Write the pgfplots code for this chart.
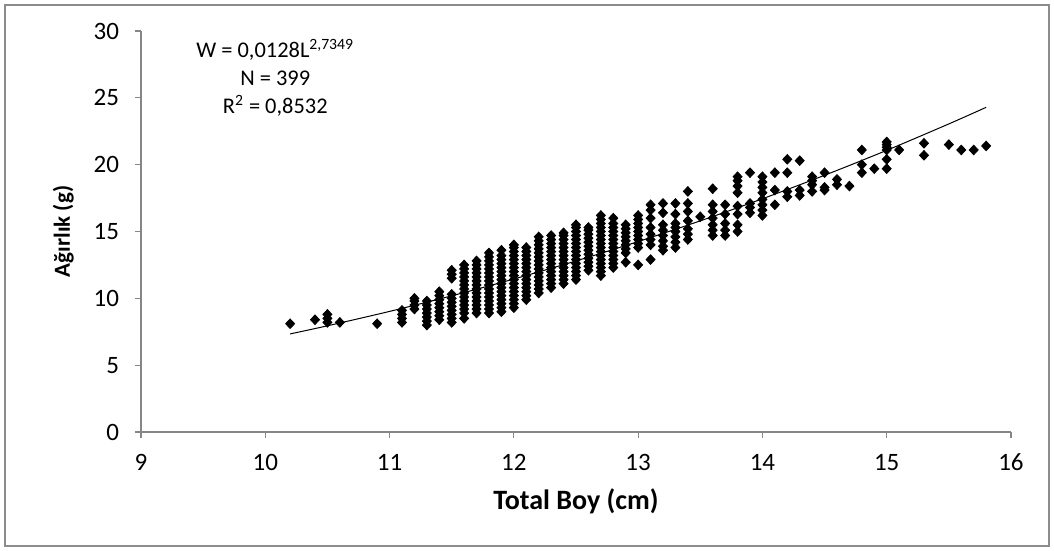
\documentclass[border=0pt]{standalone}
\usepackage{fontspec}
\setmainfont{Carlito}
\usepackage{pgfplots}
\pgfplotsset{compat=1.18}
\definecolor{axisgray}{HTML}{868686}
\definecolor{framegray}{HTML}{8C8C8C}

\begin{document}
\begin{tikzpicture}[x=1pt,y=1pt]
\useasboundingbox (0,0) rectangle (527,275.5);
\draw[framegray, line width=0.9pt] (2.5,2.5) rectangle (524.5,273);
\begin{axis}[
  at={(70.5pt,59.5pt)}, anchor=south west,
  scale only axis, width=435pt, height=200.5pt,
  xmin=9, xmax=16, ymin=0, ymax=30,
  xtick={9,...,16}, ytick={0,5,...,30},
  axis x line*=bottom, axis y line*=left,
  axis line style={axisgray, line width=0.6pt, -},
  tick style={axisgray, line width=0.6pt},
  tick align=outside, major tick length=3pt,
  /pgf/number format/assume math mode=true,
  ticklabel style={font=\fontsize{12.5}{14}\selectfont, text=black},
  xticklabel style={yshift=-4.5pt},
  yticklabel style={xshift=-4.5pt},
  xlabel={\textbf{Total Boy (cm)}},
  ylabel={\textbf{Ağırlık (g)}},
  xlabel style={font=\fontsize{14}{16}\selectfont, yshift=-2pt},
  ylabel style={font=\fontsize{11.5}{13}\selectfont, yshift=3pt},
  clip=false,
]
% observed length-weight pairs
\addplot[only marks, mark=diamond*, mark size=2.4pt, mark options={xscale=1.25}, black] table[row sep=\\] {
x y\\
10.2 8.1\\ 10.4 8.4\\ 10.5 8.2\\ 10.5 8.5\\ 10.5 8.8\\ 10.6 8.2\\ 10.9 8.1\\
11.1 8.2\\ 11.1 8.5\\ 11.1 8.8\\ 11.1 9.1\\
11.2 9.2\\ 11.2 9.5\\ 11.2 9.8\\ 11.2 10.0\\
11.3 8.0\\ 11.3 8.3\\ 11.3 8.6\\ 11.3 8.9\\ 11.3 9.2\\ 11.3 9.5\\ 11.3 9.8\\
11.4 8.4\\ 11.4 8.7\\ 11.4 9.0\\ 11.4 9.3\\ 11.4 9.6\\ 11.4 9.9\\ 11.4 10.2\\ 11.4 10.5\\
11.5 8.2\\ 11.5 8.5\\ 11.5 8.8\\ 11.5 9.1\\ 11.5 9.4\\ 11.5 9.7\\ 11.5 10.0\\ 11.5 10.3\\ 11.5 11.5\\ 11.5 11.8\\ 11.5 12.1\\
11.6 8.5\\ 11.6 8.9\\ 11.6 9.2\\ 11.6 9.5\\ 11.6 9.8\\ 11.6 10.1\\ 11.6 10.4\\ 11.6 10.7\\ 11.6 11.0\\ 11.6 11.3\\ 11.6 11.6\\ 11.6 11.9\\ 11.6 12.2\\ 11.6 12.5\\
11.7 8.9\\ 11.7 9.2\\ 11.7 9.5\\ 11.7 9.8\\ 11.7 10.1\\ 11.7 10.4\\ 11.7 10.7\\ 11.7 11.0\\ 11.7 11.3\\ 11.7 11.6\\ 11.7 11.9\\ 11.7 12.2\\ 11.7 12.5\\ 11.7 12.8\\
11.8 8.9\\ 11.8 9.2\\ 11.8 9.5\\ 11.8 9.8\\ 11.8 10.1\\ 11.8 10.4\\ 11.8 10.7\\ 11.8 11.0\\ 11.8 11.3\\ 11.8 11.6\\ 11.8 11.9\\ 11.8 12.2\\ 11.8 12.5\\ 11.8 12.8\\ 11.8 13.1\\ 11.8 13.4\\
11.9 9.0\\ 11.9 9.3\\ 11.9 9.6\\ 11.9 9.9\\ 11.9 10.2\\ 11.9 10.5\\ 11.9 10.8\\ 11.9 11.1\\ 11.9 11.4\\ 11.9 11.7\\ 11.9 12.0\\ 11.9 12.3\\ 11.9 12.6\\ 11.9 12.9\\ 11.9 13.2\\ 11.9 13.6\\
12.0 9.3\\ 12.0 9.6\\ 12.0 9.9\\ 12.0 10.2\\ 12.0 10.5\\ 12.0 10.8\\ 12.0 11.1\\ 12.0 11.4\\ 12.0 11.7\\ 12.0 12.0\\ 12.0 12.3\\ 12.0 12.6\\ 12.0 12.9\\ 12.0 13.2\\ 12.0 13.5\\ 12.0 13.8\\ 12.0 14.0\\
12.1 9.9\\ 12.1 10.2\\ 12.1 10.5\\ 12.1 10.8\\ 12.1 11.1\\ 12.1 11.4\\ 12.1 11.7\\ 12.1 12.0\\ 12.1 12.3\\ 12.1 12.6\\ 12.1 12.9\\ 12.1 13.2\\ 12.1 13.5\\ 12.1 13.8\\
12.2 10.4\\ 12.2 10.7\\ 12.2 11.0\\ 12.2 11.3\\ 12.2 11.6\\ 12.2 11.9\\ 12.2 12.2\\ 12.2 12.5\\ 12.2 12.8\\ 12.2 13.1\\ 12.2 13.4\\ 12.2 13.7\\ 12.2 14.0\\ 12.2 14.3\\ 12.2 14.6\\
12.3 10.8\\ 12.3 11.1\\ 12.3 11.4\\ 12.3 11.7\\ 12.3 12.0\\ 12.3 12.3\\ 12.3 12.6\\ 12.3 12.9\\ 12.3 13.2\\ 12.3 13.5\\ 12.3 13.8\\ 12.3 14.1\\ 12.3 14.4\\ 12.3 14.7\\
12.4 11.1\\ 12.4 11.4\\ 12.4 11.7\\ 12.4 12.0\\ 12.4 12.3\\ 12.4 12.6\\ 12.4 12.9\\ 12.4 13.2\\ 12.4 13.5\\ 12.4 13.8\\ 12.4 14.1\\ 12.4 14.4\\ 12.4 14.7\\ 12.4 14.9\\
12.5 11.4\\ 12.5 11.7\\ 12.5 12.0\\ 12.5 12.3\\ 12.5 12.6\\ 12.5 12.9\\ 12.5 13.2\\ 12.5 13.5\\ 12.5 13.8\\ 12.5 14.1\\ 12.5 14.4\\ 12.5 14.7\\ 12.5 15.0\\ 12.5 15.3\\ 12.5 15.5\\
12.6 12.1\\ 12.6 12.4\\ 12.6 12.7\\ 12.6 13.0\\ 12.6 13.3\\ 12.6 13.6\\ 12.6 13.9\\ 12.6 14.2\\ 12.6 14.5\\ 12.6 14.8\\ 12.6 15.1\\ 12.6 15.3\\
12.7 11.7\\ 12.7 12.0\\ 12.7 12.3\\ 12.7 12.6\\ 12.7 12.9\\ 12.7 13.2\\ 12.7 13.5\\ 12.7 13.8\\ 12.7 14.1\\ 12.7 14.4\\ 12.7 14.7\\ 12.7 15.0\\ 12.7 15.3\\ 12.7 15.6\\ 12.7 15.9\\ 12.7 16.2\\
12.8 12.3\\ 12.8 12.6\\ 12.8 12.9\\ 12.8 13.2\\ 12.8 13.5\\ 12.8 13.8\\ 12.8 14.1\\ 12.8 14.4\\ 12.8 14.7\\ 12.8 15.0\\ 12.8 15.3\\ 12.8 15.6\\ 12.8 16.0\\
12.9 12.7\\ 12.9 13.4\\ 12.9 13.7\\ 12.9 14.0\\ 12.9 14.3\\ 12.9 14.6\\ 12.9 14.9\\ 12.9 15.2\\ 12.9 15.5\\
13.0 12.5\\ 13.0 13.8\\ 13.0 14.1\\ 13.0 14.4\\ 13.0 14.7\\ 13.0 15.0\\ 13.0 15.3\\ 13.0 15.6\\ 13.0 15.9\\ 13.0 16.2\\
13.1 12.9\\ 13.1 14.0\\ 13.1 14.4\\ 13.1 14.8\\ 13.1 15.3\\ 13.1 16.0\\ 13.1 16.6\\ 13.1 17.0\\
13.2 13.6\\ 13.2 13.9\\ 13.2 14.3\\ 13.2 14.7\\ 13.2 15.1\\ 13.2 15.5\\ 13.2 16.4\\ 13.2 17.1\\
13.3 13.8\\ 13.3 14.2\\ 13.3 14.6\\ 13.3 15.0\\ 13.3 15.3\\ 13.3 15.6\\ 13.3 16.3\\ 13.3 17.1\\
13.4 14.4\\ 13.4 14.8\\ 13.4 15.2\\ 13.4 15.8\\ 13.4 16.5\\ 13.4 17.1\\ 13.4 18.0\\
13.5 16.1\\
13.6 14.7\\ 13.6 15.1\\ 13.6 15.5\\ 13.6 16.0\\ 13.6 16.5\\ 13.6 17.0\\ 13.6 18.2\\
13.7 14.7\\ 13.7 15.1\\ 13.7 15.6\\ 13.7 16.3\\ 13.7 17.0\\
13.8 15.0\\ 13.8 15.5\\ 13.8 16.3\\ 13.8 16.9\\ 13.8 17.9\\ 13.8 18.4\\ 13.8 18.8\\ 13.8 19.1\\
13.9 16.4\\ 13.9 16.8\\ 13.9 17.1\\ 13.9 19.4\\
14.0 16.2\\ 14.0 16.6\\ 14.0 17.0\\ 14.0 17.4\\ 14.0 17.9\\ 14.0 18.3\\ 14.0 18.7\\ 14.0 19.1\\
14.1 17.0\\ 14.1 18.1\\ 14.1 19.4\\
14.2 17.6\\ 14.2 18.0\\ 14.2 19.4\\ 14.2 20.4\\
14.3 17.7\\ 14.3 18.1\\ 14.3 20.3\\
14.4 18.0\\ 14.4 18.5\\ 14.4 18.8\\ 14.4 19.1\\
14.5 18.1\\ 14.5 18.3\\ 14.5 19.4\\
14.6 18.5\\ 14.6 18.9\\
14.7 18.4\\
14.8 19.4\\ 14.8 20.0\\ 14.8 21.1\\
14.9 19.7\\
15.0 19.7\\ 15.0 20.4\\ 15.0 21.1\\ 15.0 21.3\\ 15.0 21.5\\ 15.0 21.7\\
15.1 21.1\\
15.3 20.7\\ 15.3 21.6\\
15.5 21.5\\
15.6 21.1\\
15.7 21.1\\
15.8 21.4\\
};
% power trend line W = 0.0128 L^2.7349, tabulated
\addplot[black, line width=0.5pt, smooth] coordinates {
(10.2,7.339) (10.5,7.944) (11,9.022) (11.5,10.188) (12,11.446) (12.5,12.798)
(13,14.247) (13.5,15.797) (14,17.449) (14.5,19.206) (15,21.072) (15.5,23.049) (15.8,24.29)
};
\node[align=center, font=\fontsize{11.2}{14}\selectfont, anchor=center]
  at (axis cs:10.08,26.5)
  {W = 0,0128L\textsuperscript{2,7349}\\ N = 399\\ R\textsuperscript{2} = 0,8532};
\end{axis}
\end{tikzpicture}
\end{document}
